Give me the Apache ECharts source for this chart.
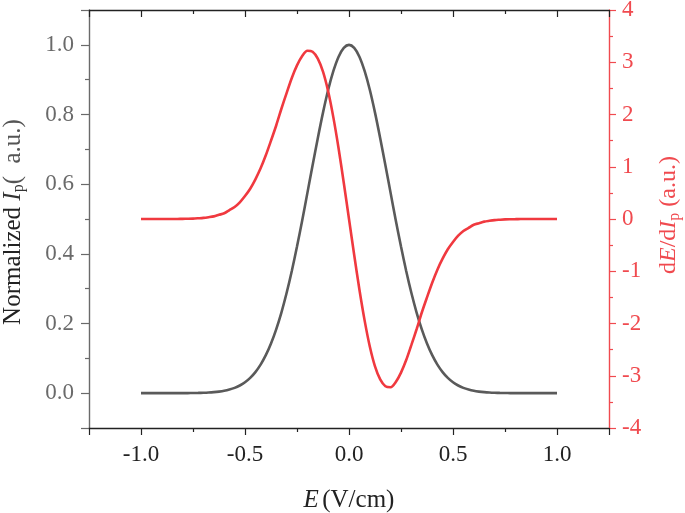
<!DOCTYPE html>
<html>
<head>
<meta charset="utf-8">
<script src="https://cdn.jsdelivr.net/npm/echarts@6/dist/echarts.min.js"></script>
<style>
  html, body { margin: 0; padding: 0; background: #fff; }
  #chart { width: 685px; height: 513px; }
</style>
</head>
<body>
<div id="chart"></div>
<script>
// E (V/cm)
const fieldValues = [
  -1.000, -0.975, -0.950, -0.925, -0.900, -0.875, -0.850, -0.825, -0.800, -0.775,
  -0.750, -0.725, -0.700, -0.675, -0.650, -0.625, -0.600, -0.575, -0.550, -0.525,
  -0.500, -0.475, -0.450, -0.425, -0.400, -0.375, -0.350, -0.325, -0.300, -0.275,
  -0.250, -0.225, -0.200, -0.175, -0.150, -0.125, -0.100, -0.075, -0.050, -0.025,
  0.000,
  0.025, 0.050, 0.075, 0.100, 0.125, 0.150, 0.175, 0.200, 0.225, 0.250,
  0.275, 0.300, 0.325, 0.350, 0.375, 0.400, 0.425, 0.450, 0.475, 0.500,
  0.525, 0.550, 0.575, 0.600, 0.625, 0.650, 0.675, 0.700, 0.725, 0.750,
  0.775, 0.800, 0.825, 0.850, 0.875, 0.900, 0.925, 0.950, 0.975, 1.000
]
// Normalized Ip (left axis)
const intensity = [
  0, 0, 0, 0, 0, 0, 0, 0, 0.0001, 0.0002,
  0.0004, 0.0007, 0.0011, 0.0018, 0.0029, 0.0045, 0.0068, 0.0103, 0.0151, 0.022,
  0.0313, 0.0439, 0.0605, 0.0819, 0.109, 0.1426, 0.1833, 0.2315, 0.2875, 0.3509,
  0.421, 0.496, 0.575, 0.6543, 0.732, 0.8054, 0.871, 0.925, 0.966, 0.9914,
  1.0,
  0.9914, 0.966, 0.925, 0.871, 0.8054, 0.732, 0.6543, 0.575, 0.496, 0.421,
  0.3509, 0.2875, 0.2315, 0.1833, 0.1426, 0.109, 0.0819, 0.0605, 0.0439, 0.0313,
  0.022, 0.0151, 0.0103, 0.0068, 0.0045, 0.0029, 0.0018, 0.0011, 0.0007, 0.0004,
  0.0002, 0.0001, 0, 0, 0, 0, 0, 0, 0, 0
]
// dE/dIp (right axis)
const derivative = [
  0, 0, 0, 0, 0, 0, 0, 0.001, 0.003, 0.005,
  0.008, 0.014, 0.021, 0.034, 0.05, 0.08, 0.11, 0.17, 0.23, 0.32,
  0.44, 0.58, 0.76, 0.97, 1.22, 1.50, 1.79, 2.11, 2.41, 2.70,
  2.94, 3.12, 3.22, 3.20, 3.07, 2.82, 2.44, 1.94, 1.35, 0.69,
  0,
  -0.69, -1.35, -1.94, -2.44, -2.82, -3.07, -3.20, -3.22, -3.12, -2.94,
  -2.70, -2.41, -2.11, -1.79, -1.50, -1.22, -0.97, -0.76, -0.58, -0.44,
  -0.32, -0.23, -0.17, -0.11, -0.08, -0.05, -0.034, -0.021, -0.014, -0.008,
  -0.005, -0.003, -0.001, 0, 0, 0, 0, 0, 0, 0
]

const serif = '"Liberation Serif", "Times New Roman", serif'
const grayAxis = '#6a6a6a'
const redAxis = '#f04a4f'

const chart = echarts.init(document.getElementById('chart'))

const xCommon = {
  type: 'value',
  min: -1.25,
  max: 1.25,
  splitNumber: 5,
  splitLine: { show: false },
  minorTick: { show: true, splitNumber: 2, length: 4, lineStyle: { color: '#222', width: 1.2 } },
  axisTick: { length: 7, lineStyle: { color: '#222', width: 1.2 } },
  axisLine: { onZero: false, lineStyle: { color: '#222', width: 1.4 } },
}

const option = {
  animation: false,
  grid: { left: 89, right: 76, top: 10, bottom: 85, containLabel: false, outerBoundsMode: 'none' },
  xAxis: [
    Object.assign({}, xCommon, {
      position: 'bottom',
      name: '{i|E} {n|(V/cm)}',
      nameLocation: 'middle',
      nameGap: 60,
      nameTextStyle: {
        rich: {
          i: { fontFamily: serif, fontSize: 25, fontStyle: 'italic', color: '#222' },
          n: { fontFamily: serif, fontSize: 25, color: '#222' },
        },
      },
      axisLabel: {
        margin: 15,
        fontFamily: serif,
        fontSize: 23,
        color: '#222',
        formatter: (v) => (Math.abs(v) > 1.01 ? '' : v.toFixed(1)),
      },
    }),
    Object.assign({}, xCommon, {
      position: 'top',
      axisLabel: { show: false },
      axisTick: { inside: true, length: 7, lineStyle: { color: '#222', width: 1.2 } },
      minorTick: { show: true, splitNumber: 2, length: 4, lineStyle: { color: '#222', width: 1.2 } },
    }),
  ],
  yAxis: [
    {
      type: 'value',
      position: 'left',
      min: -0.1,
      max: 1.1,
      splitNumber: 6,
      splitLine: { show: false },
      axisLine: { show: true, onZero: false, lineStyle: { color: grayAxis, width: 1.4 } },
      axisTick: { show: true, length: 8, lineStyle: { color: grayAxis, width: 1.2 } },
      minorTick: { show: true, splitNumber: 2, length: 4, lineStyle: { color: grayAxis, width: 1.2 } },
      axisLabel: {
        margin: 15,
        fontFamily: serif,
        fontSize: 23,
        color: grayAxis,
        formatter: (v) => (v < -0.01 || v > 1.01 ? '' : v.toFixed(1)),
      },
      name: '{n|Normalized }{i|I}{s|p}{g|(  a.u.)}',
      nameLocation: 'middle',
      nameGap: 62,
      nameTextStyle: {
        padding: [0, 6, 0, 0],
        rich: {
          n: { fontFamily: serif, fontSize: 25, color: '#222', lineHeight: 28 },
          i: { fontFamily: serif, fontSize: 25, fontStyle: 'italic', color: '#333', lineHeight: 28 },
          s: { fontFamily: serif, fontSize: 16, color: '#333', lineHeight: 28, verticalAlign: 'bottom', padding: [12, 0, 0, 0] },
          g: { fontFamily: serif, fontSize: 25, color: '#555', lineHeight: 28 },
        },
      },
    },
    {
      type: 'value',
      position: 'right',
      min: -4,
      max: 4,
      interval: 1,
      splitLine: { show: false },
      axisLine: { show: true, onZero: false, lineStyle: { color: redAxis, width: 1.4 } },
      axisTick: { show: true, length: 7, lineStyle: { color: redAxis, width: 1.2 } },
      minorTick: { show: true, splitNumber: 2, length: 4, lineStyle: { color: redAxis, width: 1.2 } },
      axisLabel: { margin: 13, fontFamily: serif, fontSize: 23, color: redAxis },
      name: '{n|d}{i|E}{n|/d}{i|I}{s|p}{n| (a.u.)}',
      nameLocation: 'middle',
      nameGap: 46,
      nameTextStyle: {
        padding: [0, 0, 0, 8],
        rich: {
          n: { fontFamily: serif, fontSize: 24, color: redAxis, lineHeight: 28 },
          i: { fontFamily: serif, fontSize: 24, fontStyle: 'italic', color: redAxis, lineHeight: 28 },
          s: { fontFamily: serif, fontSize: 16, color: redAxis, lineHeight: 28, verticalAlign: 'bottom', padding: [12, 0, 0, 0] },
        },
      },
    },
  ],
  series: [
    {
      name: 'Ip',
      type: 'line',
      xAxisIndex: 0,
      yAxisIndex: 0,
      smooth: 0.3,
      showSymbol: false,
      lineStyle: { color: '#5a5a5a', width: 2.6 },
      data: fieldValues.map((e, i) => [e, intensity[i]]),
    },
    {
      name: 'dE/dIp',
      type: 'line',
      xAxisIndex: 0,
      yAxisIndex: 1,
      smooth: 0.3,
      showSymbol: false,
      lineStyle: { color: '#f0393f', width: 2.6 },
      data: fieldValues.map((e, i) => [e, derivative[i]]),
    },
  ],
}

chart.setOption(option)
</script>
</body>
</html>
